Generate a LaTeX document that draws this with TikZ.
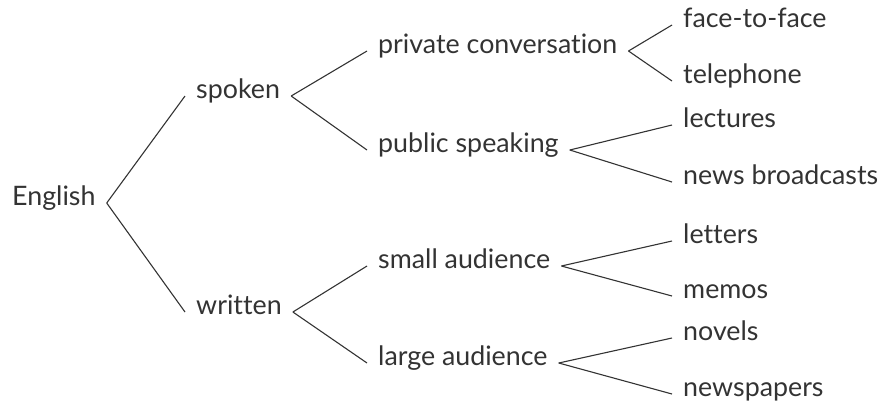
\documentclass[tikz,border=0pt]{standalone}
\usepackage{fontspec}
\setmainfont{Lato}[Ligatures=NoCommon]
\definecolor{ink}{HTML}{333333}
\tikzset{
  word/.style={anchor=west, inner xsep=11pt, inner ysep=0pt, text=ink,
    font=\fontsize{26.8}{32}\selectfont, text height=0.7em, text depth=0.2em},
  branch/.style={draw=ink, line width=1.1pt}
}
\begin{document}
\begin{tikzpicture}[x=1pt, y=-1pt]
      \useasboundingbox (0,0) rectangle (883,408);
      \draw
        (1,203) node[word] (english){English}
        (185,96) node[word] (spoken){spoken}
        (185,312) node[word] (written){written}
        (367,51) node[word] (private){private conversation}
        (367,150) node[word] (public){public speaking}
        (367,266) node[word] (small){small audience}
        (367,363) node[word] (large){large audience}
        (672,25) node[word] (face){face-to-face}
        (672,81) node[word] (phone){telephone}
        (672,125) node[word] (lectures){lectures}
        (672,182) node[word] (news){news broadcasts}
        (672,241) node[word] (letters){letters}
        (672,296) node[word] (memos){memos}
        (672,338) node[word] (novels){novels}
        (672,394) node[word] (papers){newspapers};
      \begin{scope}[branch]
        \draw (english.east) to (spoken.west);
        \draw (english.east) to (written.west);
        \draw (spoken.east) to (private.west);
        \draw (spoken.east) to (public.west);
        \draw (written.east) to (small.west);
        \draw (written.east) to (large.west);
        \draw (private.east) to (face.west);
        \draw (private.east) to (phone.west);
        \draw (public.east) to (lectures.west);
        \draw (public.east) to (news.west);
        \draw (small.east) to (letters.west);
        \draw (small.east) to (memos.west);
        \draw (large.east) to (novels.west);
        \draw (large.east) to (papers.west);
      \end{scope}
    \end{tikzpicture}
\end{document}
